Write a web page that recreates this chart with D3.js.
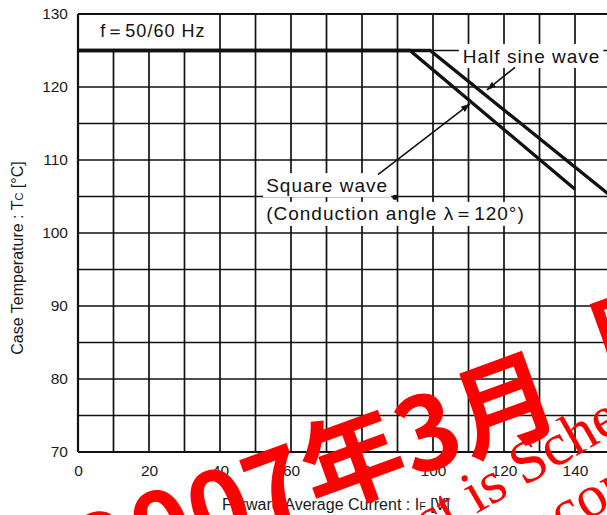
<!DOCTYPE html>
<html><head><meta charset="utf-8">
<script src="https://cdn.jsdelivr.net/npm/d3@7/dist/d3.min.js"></script>
<style>body{margin:0;background:#fff}svg{display:block}</style>
</head><body>
<svg id="c" width="607" height="515"></svg>
<script>
// ---- data ----
const xDomain = [0, 160];
const yDomain = [70, 130];
const xTickLabels = [0, 20, 40, 60, 80, 100, 120, 140, 160];
const yTickLabels = [70, 80, 90, 100, 110, 120, 130];
const xGridLines = [10, 20, 30, 40, 50, 60, 70, 80, 90, 100, 110, 120, 130, 140, 150];
const yGridLines = [75, 80, 85, 90, 95, 100, 105, 110, 115, 120, 125];
const squareWave = [[0, 125], [93.5, 125], [140, 106]];
const halfSineWave = [[0, 125], [99.2, 125], [150, 105.1]];
const freqLabel = "f＝50/60 Hz";
const halfSineLabel = "Half sine wave";
const squareLabel1 = "Square wave";
const squareLabel2 = "(Conduction angle λ＝120°)";
const halfSineArrow = [[123.1, 122.7], [115.2, 119.6]];
const squareArrow = [[84.5, 108.0], [110.4, 117.7]];
const labelDot = [89.3, 104.9];
const freqBoxRight = 40;

// ---- setup ----
const svg = d3.select('#c');
const x = d3.scaleLinear().domain(xDomain).range([78, 646]);
const y = d3.scaleLinear().domain(yDomain).range([452, 14]);
const ink = '#111';

svg.append('rect').attr('width', 607).attr('height', 515).attr('fill', '#fff');

const defs = svg.append('defs');
defs.append('marker').attr('id', 'ah').attr('viewBox', '0 0 10 10')
  .attr('refX', 10).attr('refY', 5).attr('markerWidth', 9).attr('markerHeight', 9)
  .attr('markerUnits', 'userSpaceOnUse').attr('orient', 'auto')
  .append('path').attr('d', 'M0,1.3L10,5L0,8.7Z').attr('fill', ink);

// grid
const grid = svg.append('g');
grid.selectAll('line.v').data(xGridLines).join('line').attr('class', 'v')
  .attr('x1', d => x(d)).attr('x2', d => x(d))
  .attr('y1', d => d < freqBoxRight ? y(125) : y(130)).attr('y2', y(70))
  .attr('stroke', ink).attr('stroke-width', 1.7);
grid.selectAll('line.h').data(yGridLines).join('line').attr('class', 'h')
  .attr('x1', x(0)).attr('x2', x(xDomain[1]))
  .attr('y1', d => y(d)).attr('y2', d => y(d))
  .attr('stroke', ink).attr('stroke-width', 1.4);

// curves
const line = d3.line().x(d => x(d[0])).y(d => y(d[1]));
[squareWave, halfSineWave].forEach(s => {
  svg.append('path').attr('d', line(s)).attr('fill', 'none')
    .attr('stroke', ink).attr('stroke-width', 3.3).attr('stroke-linejoin', 'miter');
});

// frame
const frame = svg.append('g').attr('stroke', ink).attr('stroke-width', 2.2);
frame.append('line').attr('x1', x(0)).attr('x2', x(0)).attr('y1', y(130)).attr('y2', y(70));
frame.append('line').attr('x1', x(0)).attr('x2', x(xDomain[1])).attr('y1', y(130)).attr('y2', y(130));
frame.append('line').attr('x1', x(0)).attr('x2', x(xDomain[1])).attr('y1', y(70)).attr('y2', y(70));

// annotation labels with white knockout
const labFont = "'Liberation Sans', Arial, sans-serif";
function label(txt, xv, yv, size, pad) {
  const g = svg.append('g');
  const r = g.append('rect').attr('fill', '#fff');
  const t = g.append('text').attr('x', x(xv)).attr('y', y(yv))
    .attr('font-family', labFont).attr('font-size', size)
    .attr('letter-spacing', 1).attr('fill', ink).text(txt);
  const b = t.node().getBBox();
  r.attr('x', b.x - pad[0]).attr('y', b.y - pad[1])
    .attr('width', b.width + pad[0] + pad[2]).attr('height', b.height + pad[1] + pad[3]);
  return t;
}
label(freqLabel, 6.3, 126.9, 18, [0, 0, 0, 0]);
label(halfSineLabel, 108.4, 123.3, 19, [4, 2, 3, 1]);
label(squareLabel1, 53.0, 105.6, 19, [3, 2, 3, 1]);
label(squareLabel2, 53.0, 101.8, 19, [3, 1, 3, 2]);
svg.append('circle').attr('cx', x(labelDot[0])).attr('cy', y(labelDot[1])).attr('r', 2.6).attr('fill', ink);

// arrows
[halfSineArrow, squareArrow].forEach(a => {
  svg.append('line').attr('x1', x(a[0][0])).attr('y1', y(a[0][1]))
    .attr('x2', x(a[1][0])).attr('y2', y(a[1][1]))
    .attr('stroke', ink).attr('stroke-width', 1.6).attr('marker-end', 'url(#ah)');
});

// axes tick labels
const axFont = "'Liberation Sans', Arial, sans-serif";
const ax = svg.append('g').attr('transform', `translate(0,${y(70)})`)
  .call(d3.axisBottom(x).tickValues(xTickLabels).tickSize(0).tickPadding(13).tickFormat(d3.format('d')));
ax.select('.domain').remove();
ax.selectAll('text').attr('font-family', axFont).attr('font-size', 15.5).attr('fill', '#1a1a1a');
const ay = svg.append('g').attr('transform', `translate(${x(0)},0)`)
  .call(d3.axisLeft(y).tickValues(yTickLabels).tickSize(0).tickPadding(10).tickFormat(d3.format('d')));
ay.select('.domain').remove();
ay.selectAll('text').attr('font-family', axFont).attr('font-size', 15.5).attr('fill', '#1a1a1a');

// axis titles
const xt = svg.append('text').attr('x', 222).attr('y', 510)
  .attr('font-family', axFont).attr('font-size', 16).attr('fill', '#1a1a1a');
xt.append('tspan').text('Forward Average Current : I');
xt.append('tspan').attr('font-size', 11).text('F');
xt.append('tspan').text(' [V]');
const yt = svg.append('text').attr('transform', 'translate(23,258) rotate(-90)')
  .attr('text-anchor', 'middle')
  .attr('font-family', axFont).attr('font-size', 16).attr('fill', '#1a1a1a');
yt.append('tspan').text('Case Temperature : T');
yt.append('tspan').attr('font-size', 11).text('C');
yt.append('tspan').text(' [°C]');

// red watermark
const wm = svg.append('g').attr('fill', '#ff0000');
const big = wm.append('g').attr('transform', 'translate(565,422) rotate(-20)')
  .attr('font-family', "'Noto Sans CJK JP', sans-serif").attr('font-weight', 700).attr('font-size', 102);
big.append('text').attr('text-anchor', 'end').text('2007年3月');
big.append('text').attr('x', 53).attr('y', -23).text('廃止予定');
const s1 = wm.append('g').attr('transform', 'translate(476,514) rotate(-30)')
  .attr('font-family', "'Liberation Serif', serif").attr('font-size', 60);
s1.append('text').attr('x', -14).attr('text-anchor', 'end').text('This product');
s1.append('text').text('is Scheduled to be discontinued');
const s2 = wm.append('g').attr('transform', 'translate(540,548) rotate(-30)')
  .attr('font-family', "'Liberation Serif', serif").attr('font-size', 60);
s2.append('text').attr('text-anchor', 'end').text('not r');
s2.append('text').text('ecommended');
</script>
</body></html>
